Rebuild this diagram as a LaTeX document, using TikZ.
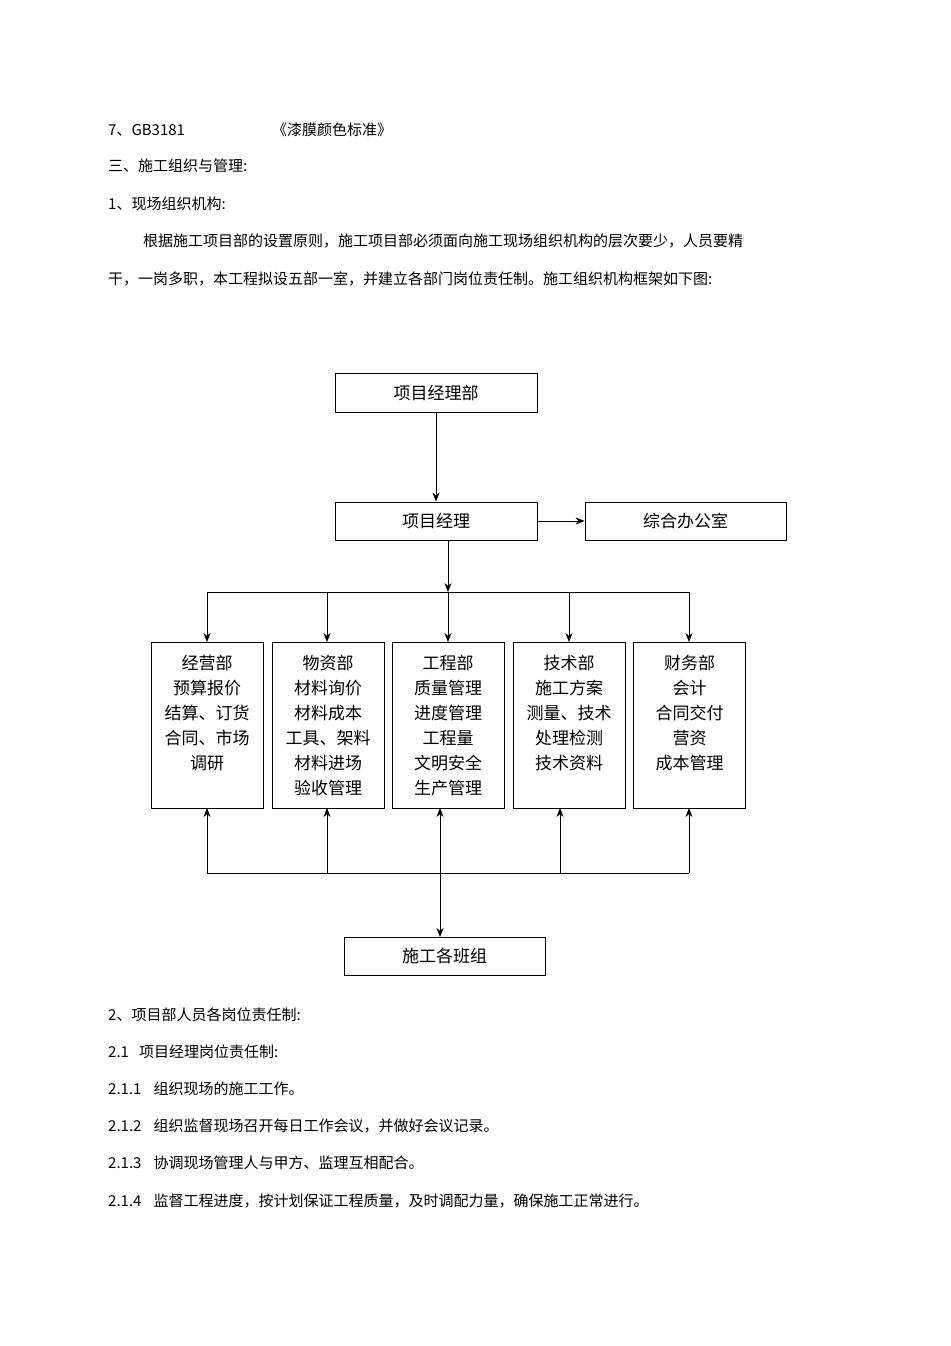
\documentclass[tikz,border=0pt]{standalone}
\usepackage{fontspec}
\setmainfont{Liberation Sans}
\newfontfamily\cjk{Noto Sans CJK SC}
\usetikzlibrary{arrows.meta}
\begin{document}
\begin{tikzpicture}[x=1pt,y=-1pt,
  txt/.style={anchor=west,inner sep=0pt,font=\fontsize{15}{18}\selectfont\cjk},
  bx/.style={draw,thick,inner sep=0pt,font=\fontsize{17}{25}\selectfont\cjk,align=center},
  arr/.style={thick,-{Stealth[length=9pt,width=7pt]}},
  ln/.style={thick}]
\useasboundingbox (0,0) rectangle (950,1346);
\fill[white] (0,0) rectangle (950,1346);
\node[txt] (t1) at (108,130) {7、GB3181};
\node[txt] (t1b) at (272,130) {《漆膜颜色标准》};
\node[txt] (t2) at (108,166) {三、施工组织与管理:};
\node[txt] (t3) at (108,204) {1、现场组织机构:};
\node[txt] (t4) at (143,241) {根据施工项目部的设置原则，施工项目部必须面向施工现场组织机构的层次要少，人员要精};
\node[txt] (t5) at (108,279) {干，一岗多职，本工程拟设五部一室，并建立各部门岗位责任制。施工组织机构框架如下图:};
\node[txt] (t6) at (108,1015) {2、项目部人员各岗位责任制:};
\node[txt] (t7) at (108,1052) {2.1\hspace{10pt}项目经理岗位责任制:};
\node[txt] (t8) at (108,1089) {2.1.1\hspace{12pt}组织现场的施工工作。};
\node[txt] (t9) at (108,1126) {2.1.2\hspace{12pt}组织监督现场召开每日工作会议，并做好会议记录。};
\node[txt] (t10) at (108,1163) {2.1.3\hspace{12pt}协调现场管理人与甲方、监理互相配合。};
\node[txt] (t11) at (108,1201) {2.1.4\hspace{12pt}监督工程进度，按计划保证工程质量，及时调配力量，确保施工正常进行。};

\node[bx,minimum width=202pt,minimum height=39pt] (pmd) at (436,392.5) {项目经理部};
\node[bx,minimum width=202pt,minimum height=38pt] (pm) at (436,521) {项目经理};
\node[bx,minimum width=201pt,minimum height=38pt] (off) at (685.5,521) {综合办公室};
\node[bx,minimum width=201pt,minimum height=38pt] (team) at (444.5,956) {施工各班组};
\foreach \n/\x/\t in {b1/207/{经营部\\预算报价\\结算、订货\\合同、市场\\调研\\\strut},
  b2/328/{物资部\\材料询价\\材料成本\\工具、架料\\材料进场\\验收管理},
  b3/448/{工程部\\质量管理\\进度管理\\工程量\\文明安全\\生产管理},
  b4/569/{技术部\\施工方案\\测量、技术\\处理检测\\技术资料\\\strut},
  b5/689.5/{财务部\\会计\\合同交付\\营资\\成本管理\\\strut}}
  \node[bx,minimum width=112pt,minimum height=166pt,text depth=0pt] (\n) at (\x,725) {\t};
\draw[arr] (pmd) -- (pm);
\draw[arr] (pm) -- (off);
\coordinate (top) at (448,592);
\draw[arr] (pm.south -| top) -- (top);
\draw[ln] (207,592) -- (689,592);
\foreach \n/\x in {b1/207,b2/327,b3/448,b4/569,b5/689}
  \draw[arr] (\x,592) -- (\x,642);
\draw[ln] (207,873) -- (689,873);
\foreach \x in {207,327,560,689}
  \draw[arr] (\x,873) -- (\x,808);
\draw[thick,{Stealth[length=9pt,width=7pt]}-{Stealth[length=9pt,width=7pt]}] (440,808) -- (440,937);
\end{tikzpicture}
\end{document}
